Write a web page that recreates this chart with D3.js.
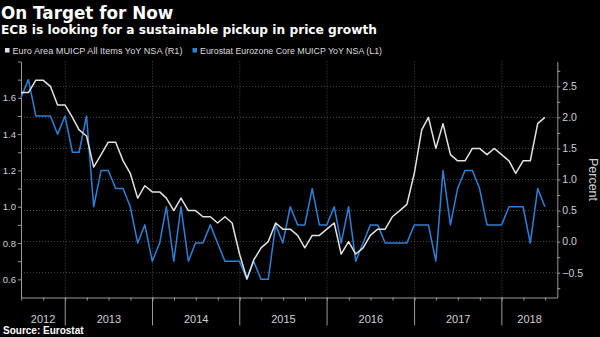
<!DOCTYPE html>
<html lang="en">
<head>
    <meta charset="UTF-8">
    <title>On Target for Now</title>
    <script src="https://d3js.org/d3.v7.min.js"></script>
    <style>
        body { margin: 0; background: #000; }
        svg { display: block; background: #000; }
        .title { font-family: "DejaVu Sans", sans-serif; font-weight: bold; fill: #fff; }
        .legend { font-family: "Liberation Sans Narrow", "Liberation Sans", sans-serif; font-size: 8.5px; fill: #ddd; }
        .axis text { font-family: "Liberation Sans", Arial, sans-serif; fill: #d0d0d0; }
        .axis path, .axis line { stroke: #9a9a9a; }
        .grid line { stroke: #4a4a4a; stroke-dasharray: 1,2; }
    </style>
</head>
<body>
    <div id="chart"></div>

    <script>
        // monthly YoY %, Jun 2012 .. Jun 2018 (month end)
        const firstMonth = new Date(2012, 5, 1);
        const lastMonth = new Date(2018, 5, 1);

        // Euro Area MUICP All Items YoY NSA (right axis)
        const headline = [
            2.4, 2.4, 2.6, 2.6, 2.5, 2.2, 2.2,
            2.0, 1.8, 1.7, 1.2, 1.4, 1.6, 1.6, 1.3, 1.1, 0.7, 0.9, 0.8,
            0.8, 0.7, 0.5, 0.7, 0.5, 0.5, 0.4, 0.4, 0.3, 0.4, 0.3, -0.2,
            -0.6, -0.3, -0.1, 0.0, 0.3, 0.2, 0.2, 0.1, -0.1, 0.1, 0.1, 0.2,
            0.3, -0.2, 0.0, -0.2, -0.1, 0.1, 0.2, 0.2, 0.4, 0.5, 0.6, 1.1,
            1.8, 2.0, 1.5, 1.9, 1.4, 1.3, 1.3, 1.5, 1.5, 1.4, 1.5, 1.4,
            1.3, 1.1, 1.3, 1.3, 1.9, 2.0
        ];

        // Eurostat Eurozone Core MUICP YoY NSA (left axis)
        const core = [
            1.6, 1.7, 1.5, 1.5, 1.5, 1.4, 1.5,
            1.3, 1.3, 1.5, 1.0, 1.2, 1.2, 1.1, 1.1, 1.0, 0.8, 0.9, 0.7,
            0.8, 1.0, 0.7, 1.0, 0.7, 0.8, 0.8, 0.9, 0.8, 0.7, 0.7, 0.7,
            0.6, 0.7, 0.6, 0.6, 0.9, 0.8, 1.0, 0.9, 0.9, 1.1, 0.9, 0.9,
            1.0, 0.8, 1.0, 0.7, 0.8, 0.9, 0.9, 0.8, 0.8, 0.8, 0.8, 0.9,
            0.9, 0.9, 0.7, 1.2, 0.9, 1.1, 1.2, 1.2, 1.1, 0.9, 0.9, 0.9,
            1.0, 1.0, 1.0, 0.8, 1.1, 1.0
        ];

        const years = ["2012", "2013", "2014", "2015", "2016", "2017", "2018"];
        const leftTicks = [0.6, 0.8, 1.0, 1.2, 1.4, 1.6];
        const rightTicks = [-0.5, 0.0, 0.5, 1.0, 1.5, 2.0, 2.5];

        const legendItems = [
            { label: "Euro Area MUICP All Items YoY NSA  (R1)", color: "#e2e2e2" },
            { label: "Eurostat Eurozone Core MUICP YoY NSA  (L1)", color: "#2f80d4" }
        ];

        const width = 600, height = 337;
        const plot = { left: 21, right: 557.3, top: 61.5, bottom: 297.5 };

        // month-end dates
        const dates = d3.timeMonth.range(firstMonth, d3.timeMonth.offset(lastMonth, 1))
            .map(m => d3.timeDay.offset(d3.timeMonth.offset(m, 1), -1));

        const svg = d3.select("#chart")
            .append("svg")
            .attr("width", width)
            .attr("height", height);

        // titles
        svg.append("text").attr("class", "title")
            .attr("x", 1).attr("y", 18.5)
            .style("font-size", "16.8px")
            .text("On Target for Now");
        svg.append("text").attr("class", "title")
            .attr("x", 1).attr("y", 34)
            .style("font-size", "12.2px")
            .text("ECB is looking for a sustainable pickup in price growth");

        // legend
        const legendPos = [{ x: 5, w: 170 }, { x: 192.5, w: 182 }];
        legendItems.forEach((d, i) => {
            const p = legendPos[i];
            svg.append("rect")
                .attr("x", p.x).attr("y", 48)
                .attr("width", 4.5).attr("height", 4.5)
                .attr("fill", d.color);
            svg.append("text").attr("class", "legend")
                .attr("x", p.x + 7.5).attr("y", 53.5)
                .attr("textLength", p.w)
                .attr("lengthAdjust", "spacingAndGlyphs")
                .text(d.label);
        });

        // scales
        const x = d3.scaleTime()
            .domain([new Date(2012, 5, 30), new Date(2018, 7, 21)])
            .range([plot.left, plot.right]);

        const yL = d3.scaleLinear()
            .domain([0.5, 1.8])
            .range([plot.bottom, plot.top]);

        const yR = d3.scaleLinear()
            .domain([-0.9, 2.9])
            .range([plot.bottom, plot.top]);

        const yearStarts = d3.timeYear.range(new Date(2013, 0, 1), new Date(2018, 1, 1));

        // grid
        const grid = svg.append("g").attr("class", "grid");
        grid.selectAll(".h")
            .data(rightTicks)
            .enter().append("line")
            .attr("x1", plot.left).attr("x2", plot.right)
            .attr("y1", d => yR(d)).attr("y2", d => yR(d));
        grid.selectAll(".v")
            .data(yearStarts)
            .enter().append("line")
            .attr("x1", d => x(d)).attr("x2", d => x(d))
            .attr("y1", plot.top).attr("y2", plot.bottom);

        // bottom axis: quarterly ticks, year separators, year labels
        const xAxis = svg.append("g")
            .attr("class", "axis")
            .attr("transform", `translate(0,${plot.bottom})`)
            .call(d3.axisBottom(x)
                .ticks(d3.timeMonth.every(3))
                .tickSize(3)
                .tickSizeOuter(0)
                .tickFormat(""));

        xAxis.selectAll(".year-sep")
            .data(yearStarts)
            .enter().append("line")
            .attr("class", "year-sep")
            .attr("x1", d => x(d)).attr("x2", d => x(d))
            .attr("y1", 0).attr("y2", 28);

        const bounds = [x.domain()[0], ...yearStarts, x.domain()[1]];
        xAxis.selectAll(".year")
            .data(years)
            .enter().append("text")
            .attr("class", "year")
            .attr("x", (d, i) => (x(bounds[i]) + x(bounds[i + 1])) / 2)
            .attr("y", 25)
            .attr("text-anchor", "middle")
            .style("font-size", "11px")
            .text(d => d);

        // left axis (core)
        const leftAxis = svg.append("g")
            .attr("class", "axis")
            .attr("transform", `translate(${plot.left},0)`);
        leftAxis.call(d3.axisLeft(yL)
            .tickValues(d3.range(6, 19).map(v => v / 10))
            .tickSize(3)
            .tickSizeOuter(0)
            .tickPadding(2)
            .tickFormat(d => leftTicks.some(t => Math.abs(t - d) < 1e-6) ? d3.format(".1f")(d) : ""));
        leftAxis.selectAll("text").style("font-size", "9.5px");

        // right axis (headline)
        const rightAxis = svg.append("g")
            .attr("class", "axis")
            .attr("transform", `translate(${plot.right},0)`);
        rightAxis.call(d3.axisRight(yR)
            .tickValues(d3.range(-3, 12).map(v => v / 4))
            .tickSize(3)
            .tickSizeOuter(0)
            .tickPadding(2)
            .tickFormat(d => rightTicks.some(t => Math.abs(t - d) < 1e-6) ? d3.format(".1f")(d) : ""));
        rightAxis.selectAll("text").style("font-size", "10.5px");

        svg.append("text")
            .attr("class", "axis")
            .attr("transform", `translate(589,179.5) rotate(90)`)
            .attr("text-anchor", "middle")
            .style("font-family", "Liberation Sans, Arial, sans-serif")
            .style("font-size", "12.5px")
            .style("fill", "#d0d0d0")
            .text("Percent");

        // lines
        const lineCore = d3.line()
            .x((d, i) => x(dates[i]))
            .y(d => yL(d));
        const lineHeadline = d3.line()
            .x((d, i) => x(dates[i]))
            .y(d => yR(d));

        svg.append("path")
            .datum(core)
            .attr("fill", "none")
            .attr("stroke", legendItems[1].color)
            .attr("stroke-width", 1.5)
            .attr("stroke-linejoin", "round")
            .attr("d", lineCore);

        svg.append("path")
            .datum(headline)
            .attr("fill", "none")
            .attr("stroke", legendItems[0].color)
            .attr("stroke-width", 1.5)
            .attr("stroke-linejoin", "round")
            .attr("d", lineHeadline);

        // source
        svg.append("text")
            .attr("x", 3).attr("y", 334)
            .style("font-family", "Liberation Sans, Arial, sans-serif")
            .style("font-weight", "bold")
            .style("font-size", "10px")
            .style("fill", "#fff")
            .text("Source: Eurostat");
    </script>
</body>
</html>
